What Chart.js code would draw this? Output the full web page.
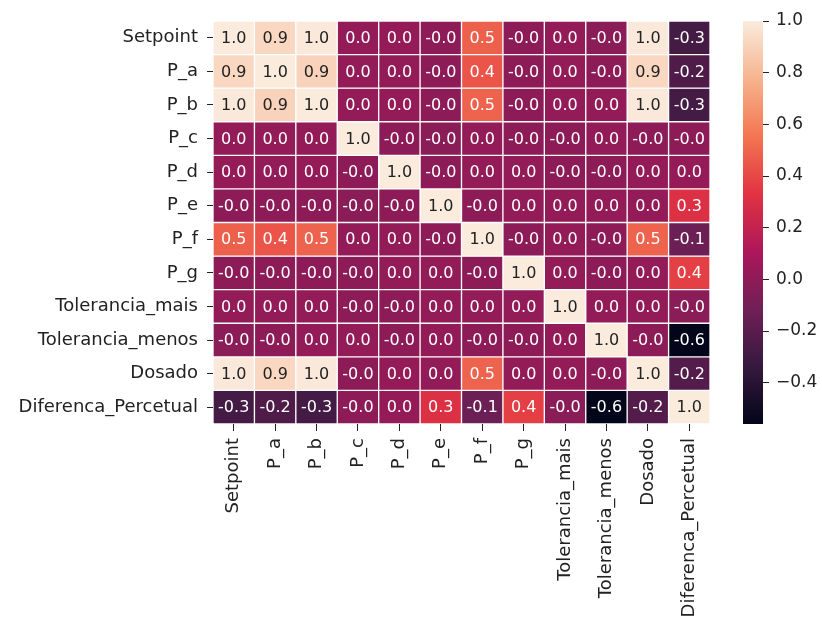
<!DOCTYPE html>
<html>
<head>
<meta charset="utf-8">
<script src="https://cdn.jsdelivr.net/npm/chart.js@4/dist/chart.umd.min.js"></script>
<style>
  html, body { margin: 0; padding: 0; background: #fff; }
  #wrap { position: relative; width: 822px; height: 627px; }
  #heat { position: absolute; left: 0; top: 0; }
  #cbar { position: absolute; left: 723px; top: 0; }
</style>
</head>
<body>
<div id="wrap">
  <canvas id="heat" width="730" height="627"></canvas>
  <canvas id="cbar" width="99" height="627"></canvas>
</div>
<script>
// Variable names (rows and columns share the same order)
const variables = [
  'Setpoint', 'P_a', 'P_b', 'P_c', 'P_d', 'P_e', 'P_f', 'P_g',
  'Tolerancia_mais', 'Tolerancia_menos', 'Dosado', 'Diferenca_Percetual'
];

// Correlation coefficients, one row per variable
const rowSetpoint   = [ 1.00,  0.92,  0.99,  0.01,  0.02, -0.01,  0.48, -0.01,  0.01, -0.02,  0.99, -0.28];
const rowPa         = [ 0.92,  1.00,  0.90,  0.01,  0.01, -0.01,  0.44, -0.01,  0.01, -0.01,  0.92, -0.24];
const rowPb         = [ 0.99,  0.90,  1.00,  0.01,  0.02, -0.01,  0.49, -0.01,  0.01,  0.01,  0.99, -0.28];
const rowPc         = [ 0.01,  0.01,  0.01,  1.00, -0.01, -0.02,  0.01, -0.01, -0.01,  0.01, -0.01, -0.01];
const rowPd         = [ 0.02,  0.01,  0.02, -0.01,  1.00, -0.01,  0.01,  0.01, -0.01, -0.01,  0.02,  0.02];
const rowPe         = [-0.01, -0.01, -0.01, -0.02, -0.01,  1.00, -0.01,  0.01,  0.01,  0.01,  0.01,  0.31];
const rowPf         = [ 0.48,  0.44,  0.49,  0.01,  0.01, -0.01,  1.00, -0.01,  0.01, -0.01,  0.49, -0.13];
const rowPg         = [-0.01, -0.01, -0.01, -0.01,  0.01,  0.01, -0.01,  1.00,  0.01, -0.01,  0.01,  0.37];
const rowTolMais    = [ 0.01,  0.01,  0.01, -0.01, -0.01,  0.01,  0.01,  0.01,  1.00,  0.01,  0.01, -0.02];
const rowTolMenos   = [-0.02, -0.01,  0.01,  0.01, -0.01,  0.01, -0.01, -0.01,  0.01,  1.00, -0.01, -0.56];
const rowDosado     = [ 0.99,  0.92,  0.99, -0.01,  0.02,  0.01,  0.49,  0.01,  0.01, -0.01,  1.00, -0.22];
const rowDiferenca  = [-0.28, -0.24, -0.28, -0.01,  0.02,  0.31, -0.13,  0.37, -0.02, -0.56, -0.22,  1.00];

const matrix = [rowSetpoint, rowPa, rowPb, rowPc, rowPd, rowPe, rowPf, rowPg,
                rowTolMais, rowTolMenos, rowDosado, rowDiferenca];

// Colour bar tick values
const colorbarTicks = [-0.4, -0.2, 0.0, 0.2, 0.4, 0.6, 0.8, 1.0];

// Colour range follows the data extremes
const vmin = Math.min(...matrix.flat());
const vmax = Math.max(...matrix.flat());

// "rocket" colour map stops
const rocketStops = [
  [0 / 7, '#03051A'], [1 / 7, '#35193E'], [2 / 7, '#701F57'], [3 / 7, '#AD1759'],
  [4 / 7, '#E13342'], [5 / 7, '#F37651'], [6 / 7, '#F6B48F'], [7 / 7, '#FAEBDD']
];

function hexToRgb(h) {
  return [parseInt(h.slice(1, 3), 16), parseInt(h.slice(3, 5), 16), parseInt(h.slice(5, 7), 16)];
}
function rocket(t) {
  t = Math.max(0, Math.min(1, t));
  for (let i = 1; i < rocketStops.length; i++) {
    const [t1, c1] = rocketStops[i];
    const [t0, c0] = rocketStops[i - 1];
    if (t <= t1) {
      const f = (t - t0) / (t1 - t0);
      const a = hexToRgb(c0), b = hexToRgb(c1);
      return a.map((v, k) => Math.round(v + f * (b[k] - v)));
    }
  }
  return hexToRgb(rocketStops[rocketStops.length - 1][1]);
}
function cellRgb(v) { return rocket((v - vmin) / (vmax - vmin)); }
function rgbStr(c) { return `rgb(${c[0]},${c[1]},${c[2]})`; }
function luminance(c) {
  const lin = c.map(v => { v /= 255; return v <= 0.03928 ? v / 12.92 : Math.pow((v + 0.055) / 1.055, 2.4); });
  return 0.2126 * lin[0] + 0.7152 * lin[1] + 0.0722 * lin[2];
}

const FONT = "'DejaVu Sans', sans-serif";
const TEXT = '#222222';

// One dataset per row: each cell is a floating bar spanning [row, row + 1]
const datasets = matrix.map((row, r) => ({
  label: variables[r],
  data: row.map(() => [r, r + 1]),
  backgroundColor: row.map(v => rgbStr(cellRgb(v))),
  borderColor: '#ffffff',
  borderWidth: 1,
  borderSkipped: false,
  grouped: false,
  barPercentage: 1,
  categoryPercentage: 1
}));

// Writes each coefficient in the middle of its cell
const cellLabels = {
  id: 'cellLabels',
  afterDatasetsDraw(chart) {
    const ctx = chart.ctx;
    ctx.save();
    ctx.font = `16px ${FONT}`;
    ctx.textAlign = 'center';
    ctx.textBaseline = 'middle';
    chart.data.datasets.forEach((ds, r) => {
      const meta = chart.getDatasetMeta(r);
      meta.data.forEach((bar, c) => {
        const v = matrix[r][c];
        const p = bar.getProps(['x', 'y', 'base'], true);
        ctx.fillStyle = luminance(cellRgb(v)) > 0.408 ? TEXT : '#ffffff';
        ctx.fillText(v.toFixed(1), p.x, (p.y + p.base) / 2 + 1);
      });
    });
    ctx.restore();
  }
};

new Chart(document.getElementById('heat'), {
  type: 'bar',
  data: { labels: variables, datasets },
  options: {
    responsive: false,
    animation: false,
    layout: { padding: { left: 0, top: 21, right: 20, bottom: 0 } },
    plugins: { legend: { display: false }, tooltip: { enabled: false } },
    scales: {
      x: {
        type: 'category',
        afterFit(scale) { scale.height = 203; },
        border: { display: false },
        grid: { offset: false, drawOnChartArea: false, drawTicks: true, tickLength: 7, color: TEXT, tickWidth: 1 },
        ticks: { autoSkip: false, minRotation: 90, maxRotation: 90, padding: 7, color: TEXT, font: { family: FONT, size: 18 } }
      },
      y: {
        type: 'linear',
        min: 0,
        max: variables.length,
        reverse: true,
        afterFit(scale) { scale.width = 213; },
        afterBuildTicks(scale) { scale.ticks = variables.map((_, i) => ({ value: i + 0.5 })); },
        border: { display: false },
        grid: { drawOnChartArea: false, drawTicks: true, tickLength: 6, color: TEXT, tickWidth: 1 },
        ticks: {
          padding: 9, color: TEXT, font: { family: FONT, size: 18 },
          callback: (value, index) => variables[index]
        }
      }
    }
  },
  plugins: [cellLabels]
});

// Colour bar: a single floating bar from vmin to vmax filled with the colour map
function colorbarFill(context) {
  const chart = context.chart;
  const area = chart.chartArea;
  if (!area) return rgbStr(rocket(0.5));
  const g = chart.ctx.createLinearGradient(0, area.bottom, 0, area.top);
  rocketStops.forEach(([t, c]) => g.addColorStop(t, c));
  return g;
}

new Chart(document.getElementById('cbar'), {
  type: 'bar',
  data: {
    labels: ['scale'],
    datasets: [{
      data: [[vmin, vmax]],
      backgroundColor: colorbarFill,
      borderWidth: 0,
      barPercentage: 1,
      categoryPercentage: 1
    }]
  },
  options: {
    responsive: false,
    animation: false,
    layout: { padding: { left: 20, top: 21, right: 0, bottom: 203 } },
    plugins: { legend: { display: false }, tooltip: { enabled: false } },
    scales: {
      x: { display: false },
      y: {
        type: 'linear',
        position: 'right',
        min: vmin,
        max: vmax,
        afterFit(scale) { scale.width = 59; },
        afterBuildTicks(scale) { scale.ticks = colorbarTicks.map(v => ({ value: v })); },
        border: { display: false },
        grid: { drawOnChartArea: false, drawTicks: true, tickLength: 6, color: TEXT, tickWidth: 1 },
        ticks: {
          padding: 7, color: TEXT, font: { family: FONT, size: 17 },
          callback: v => v.toFixed(1).replace('-', '\u2212')
        }
      }
    }
  }
});
</script>
</body>
</html>
